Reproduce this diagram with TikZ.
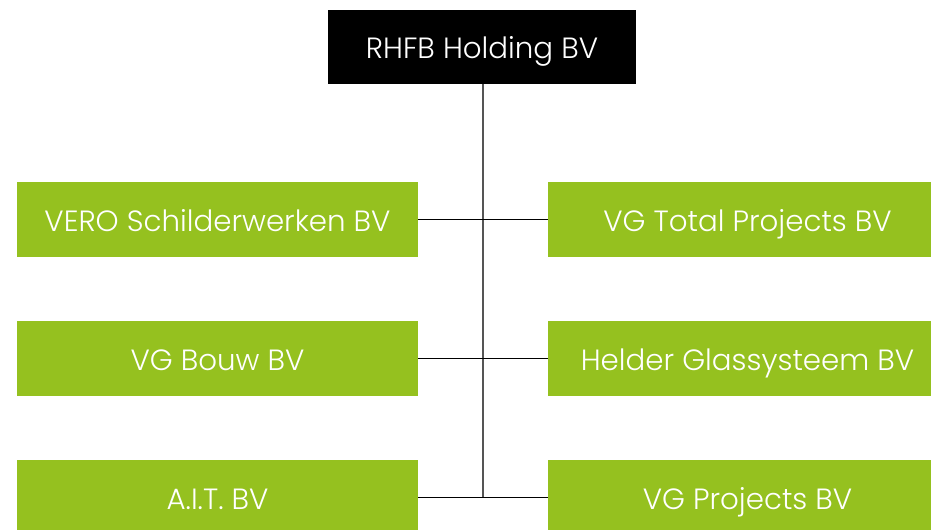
\documentclass[tikz,border=0pt]{standalone}
\usepackage{fontspec}
\setmainfont{Poppins Light}
\definecolor{vgreen}{HTML}{95C11F}
\definecolor{vline}{HTML}{555555}
\tikzset{
  x=1pt,y=-1pt,
  topbox/.style={fill=black,minimum width=308pt,minimum height=74pt,inner sep=0pt,outer sep=0pt},
  leftbox/.style={fill=vgreen,minimum width=401pt,minimum height=75pt,inner sep=0pt,outer sep=0pt},
  rightbox/.style={fill=vgreen,minimum width=383pt,minimum height=75pt,inner sep=0pt,outer sep=0pt},
  lbl/.style={text=white,font=\fontsize{29.3}{33}\selectfont,inner sep=0pt,text height=20.9pt,text depth=0pt,yshift=-1.5pt},
  hline/.style={draw=black,line width=1pt},
  vconn/.style={draw=vline,line width=1.3pt}
}
\begin{document}
\begin{tikzpicture}
\useasboundingbox (0,0) rectangle (932,530);
\node[topbox] (top) at (482,47) {};
\node[lbl] (toplbl) at (top.center) {RHFB Holding BV};
\node[leftbox] (l1) at (217.5,219.5) {};
\node[lbl] (l1t) at (l1.center) {VERO Schilderwerken BV};
\node[leftbox] (l2) at (217.5,358.5) {};
\node[lbl] (l2t) at (l2.center) {VG Bouw BV};
\node[leftbox] (l3) at (217.5,497.5) {};
\node[lbl] (l3t) at (l3.center) {A.I.T. BV};
\node[rightbox] (r1) at (739.5,219.5) {};
\node[lbl,xshift=8pt] (r1t) at (r1.center) {VG Total Projects BV};
\node[rightbox] (r2) at (739.5,358.5) {};
\node[lbl,xshift=8pt] (r2t) at (r2.center) {Helder Glassysteem BV};
\node[rightbox] (r3) at (739.5,497.5) {};
\node[lbl,xshift=8pt] (r3t) at (r3.center) {VG Projects BV};
\coordinate (vend) at (483,497);
\draw[vconn] (top.south -| vend) -- (vend);
\draw[hline] (l1.east) -- (r1.west);
\draw[hline] (l2.east) -- (r2.west);
\draw[hline] (l3.east) -- (r3.west);
\end{tikzpicture}
\end{document}
